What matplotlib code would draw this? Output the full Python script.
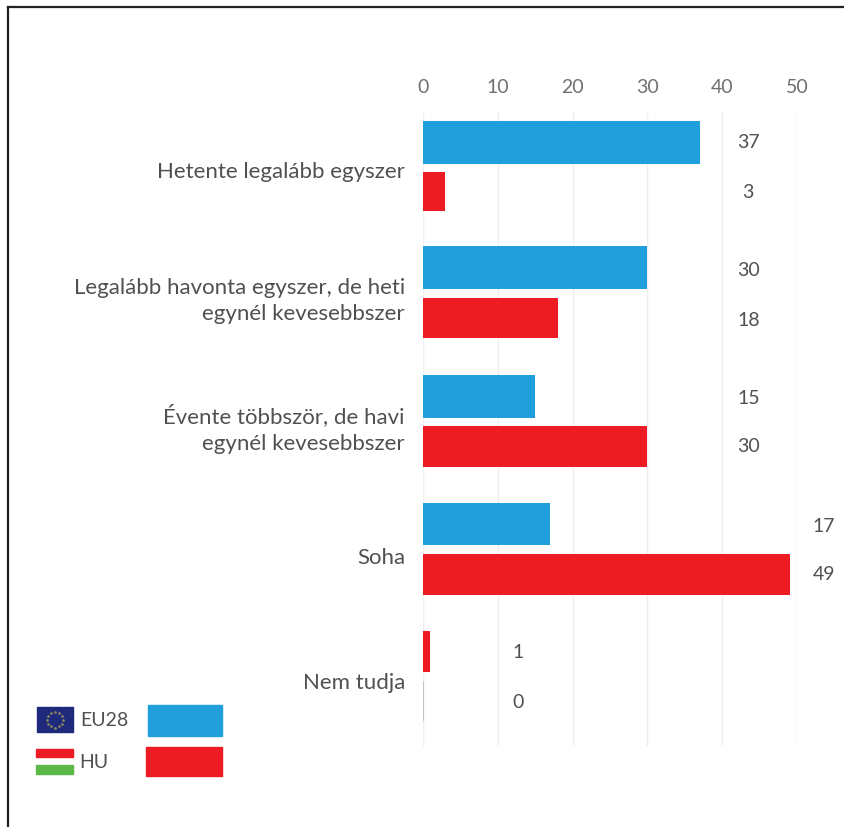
import matplotlib
matplotlib.use('Agg')
import matplotlib.pyplot as plt
from matplotlib.patches import Rectangle
import numpy as np

categories = ['Hetente legalább egyszer',
              'Legalább havonta egyszer, de heti\negynél kevesebbszer',
              'Évente többször, de havi\negynél kevesebbszer',
              'Soha',
              'Nem tudja']
upper_values = [37, 30, 15, 17, 1]
lower_values = [3, 18, 30, 49, 0]
upper_colors = ['#219fdc', '#219fdc', '#219fdc', '#219fdc', '#ed1c24']
lower_colors = ['#ed1c24', '#ed1c24', '#ed1c24', '#ed1c24', '#bbbbbb']
x_ticks = [0, 10, 20, 30, 40, 50]
legend_names = ['EU28', 'HU']

BLUE = '#219fdc'
RED = '#ed1c24'
GREEN = '#5cb947'
TEXT = '#505050'

W, H = 845, 827
plt.rcParams['font.family'] = ['Lato', 'DejaVu Sans']

fig = plt.figure(figsize=(W / 100, H / 100), dpi=100, facecolor='w')


def px_axes(left, top, right, bottom):
    return fig.add_axes([left / W, 1 - bottom / H, (right - left) / W, (bottom - top) / H])


# overlay in pixel coordinates for the frame and the legend
over = fig.add_axes([0, 0, 1, 1], zorder=5)
over.set_xlim(0, W)
over.set_ylim(H, 0)
over.axis('off')
over.patch.set_alpha(0)

ax = px_axes(423, 113, 797, 746)
ax.set_xlim(0, 50)
ax.set_ylim(746, 113)  # pixel rows, so bars line up with the group pitch

group_top = [121, 246, 375, 503, 631]
upper_h = [43, 43, 43, 42, 41]
lower_top = [172, 298, 426, 554, 682]
lower_h = [39, 40, 41, 41, 38]

ax.barh(np.array(group_top) + np.array(upper_h) / 2, upper_values, height=upper_h,
        color=upper_colors, zorder=3)
ax.barh(np.array(lower_top) + np.array(lower_h) / 2, lower_values, height=lower_h,
        color=lower_colors, zorder=3)
# the zero bar still shows as a hairline
ax.plot([0, 0], [lower_top[4], lower_top[4] + lower_h[4]], color='#bbbbbb', lw=1.2, zorder=3)

ax.set_xticks(x_ticks)
ax.xaxis.tick_top()
ax.tick_params(axis='x', length=0, pad=12, labelsize=14, labelcolor='#707070')
ax.set_yticks([])
ax.grid(axis='x', color='#efefef', lw=1)
ax.set_axisbelow(True)
for spine in ('top', 'right', 'bottom', 'left'):
    ax.spines[spine].set_visible(False)
ax.patch.set_alpha(0)

# value labels sit in a column beyond the scale of each group
label_x = [748, 749, 749, 824, 518]
upper_y = [143, 271, 398, 526, 653]
lower_y = [192, 320, 447, 575, 703]
for i in range(5):
    over.text(label_x[i], upper_y[i], str(upper_values[i]), ha='center', va='center',
              fontsize=14, color=TEXT)
    over.text(label_x[i], lower_y[i], str(lower_values[i]), ha='center', va='center',
              fontsize=14, color=TEXT)

label_y = [172, 301, 429, 558, 683]
for name, y in zip(categories, label_y):
    over.text(405, y, name, ha='right', va='center', fontsize=16, color=TEXT, linespacing=1.42)

# frame
over.plot([8, 8], [H, 7], color='#222222', lw=1.6)
over.plot([8, 845], [7, 7], color='#222222', lw=1.6)

# legend
over.add_patch(Rectangle((37, 707), 36, 25, color='#1f2a7c'))
stars = np.linspace(0, 2 * np.pi, 12, endpoint=False)
over.scatter(55 + 8 * np.cos(stars), 719.5 + 8 * np.sin(stars), s=0.8, color='#8d8a5e', zorder=6)
over.add_patch(Rectangle((36, 749), 37, 8, color=RED))
over.add_patch(Rectangle((36, 765), 37, 9, color=GREEN))
over.add_patch(Rectangle((148, 705), 74, 31, color=BLUE))
over.add_patch(Rectangle((146, 747), 76, 29, color=RED))
over.text(80, 721, legend_names[0], ha='left', va='center', fontsize=14, color=TEXT)
over.text(79, 763, legend_names[1], ha='left', va='center', fontsize=14, color=TEXT)

fig.savefig('out.png', dpi=100)
